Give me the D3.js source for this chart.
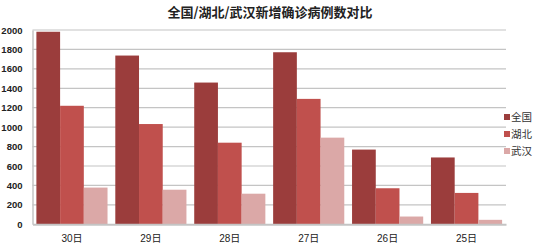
<!DOCTYPE html>
<html><head><meta charset="utf-8">
<script src="https://cdn.jsdelivr.net/npm/d3@7/dist/d3.min.js"></script>
<style>body{margin:0;background:#fff}svg{display:block}</style>
</head><body><svg id="c" width="554" height="246"></svg>
<script>
const categories = ["30日","29日","28日","27日","26日","25日"];
const seriesNames = ["全国","湖北","武汉"];
const national = [1982,1737,1459,1771,769,688];
const hubei = [1220,1032,840,1291,371,323];
const wuhan = [378,356,315,892,80,46];
const yTicks = [0,200,400,600,800,1000,1200,1400,1600,1800,2000];
const colors = ["#9b3d3c","#c0504d","#dba8a7"];
const title = "全国/湖北/武汉新增确诊病例数对比";

const series = [national, hubei, wuhan];
const svg = d3.select("#c");
const L = 32.5, R = 506, T = 30, B = 224.3;
const x = d3.scaleBand().domain(categories).range([L, R]).paddingInner(0).paddingOuter(0);
const inner = d3.scaleBand().domain(seriesNames).range([0, x.bandwidth()]).paddingInner(0).paddingOuter(0.164);
const y = d3.scaleLinear().domain([0, 2000]).range([B, T]);

// gridlines
svg.append("g").selectAll("line").data(yTicks.filter(d=>d>0)).join("line")
  .attr("x1", L).attr("x2", R).attr("y1", d=>y(d)).attr("y2", d=>y(d))
  .attr("stroke", "#c4c4c4").attr("stroke-width", 1.2);

// y axis
const yAxis = d3.axisLeft(y).tickValues(yTicks).tickFormat(d3.format("d")).tickSize(0).tickPadding(10);
const ga = svg.append("g").attr("transform", `translate(${L},0)`).call(yAxis);
ga.select(".domain").attr("stroke", "#c4c4c4").attr("stroke-width", 1.5);
ga.selectAll("text").attr("font-family", "Liberation Sans, Arial, sans-serif").attr("font-size", "9.5px").attr("fill", "#222").attr("font-weight","bold");

// bars
const g = svg.append("g");
seriesNames.forEach((s, si) => {
  g.append("g").selectAll("rect").data(categories).join("rect")
    .attr("x", (c) => x(c) + inner(s))
    .attr("width", inner.bandwidth())
    .attr("y", (c, i) => y(series[si][i]))
    .attr("height", (c, i) => B - y(series[si][i]))
    .attr("fill", colors[si]);
});

// x axis
const xAxis = d3.axisBottom(x).tickSize(0).tickPadding(11);
const gx = svg.append("g").attr("transform", `translate(0,${B})`).call(xAxis);
gx.select(".domain").attr("stroke", "#c4c4c4").attr("stroke-width", 2);
gx.selectAll("text").attr("font-family", "Liberation Sans, 'Noto Sans CJK SC', sans-serif").attr("font-size", "10px").attr("fill", "#222");

// title
svg.append("text").attr("x", 270).attr("y", 17).attr("text-anchor", "middle")
  .attr("font-family", "'Noto Sans CJK SC', sans-serif").attr("font-weight", "bold")
  .attr("font-size", "13px").attr("fill", "#222").text(title);

// legend
const lg = svg.append("g");
seriesNames.forEach((s, i) => {
  const yy = 117 + i * 17;
  lg.append("rect").attr("x", 504).attr("y", yy - 3).attr("width", 6).attr("height", 6).attr("fill", colors[i]);
  lg.append("text").attr("x", 511).attr("y", yy + 4).attr("font-family", "'Noto Sans CJK SC', sans-serif")
    .attr("font-size", "10.5px").attr("fill", "#333").text(s);
});
</script></body></html>
